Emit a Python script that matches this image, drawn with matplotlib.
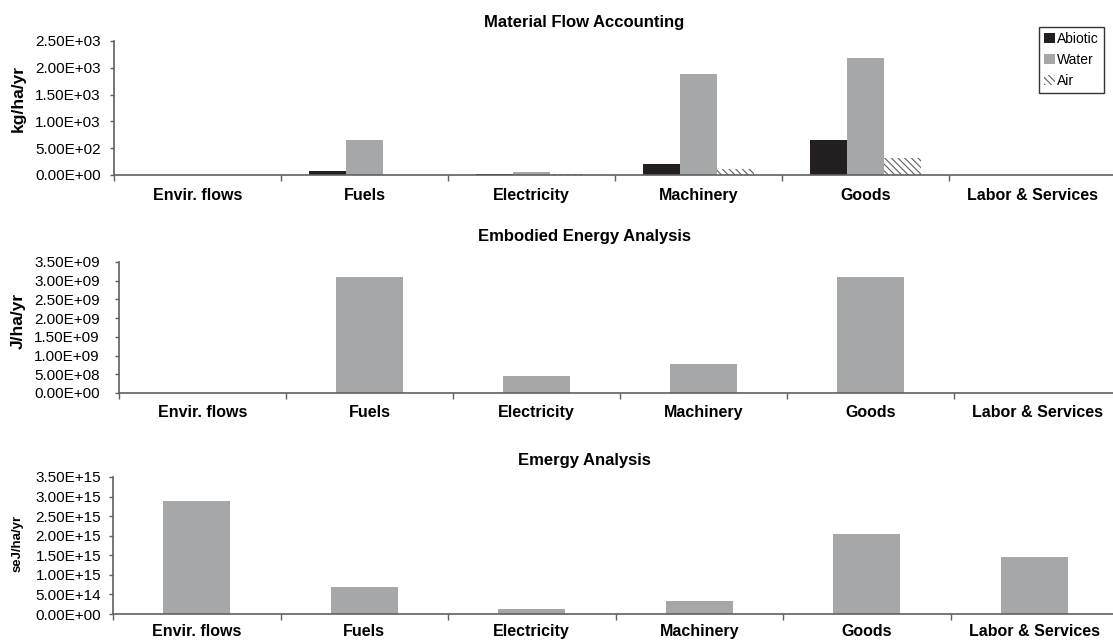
import matplotlib
matplotlib.use("Agg")
import matplotlib.pyplot as plt
import numpy as np
from matplotlib.ticker import FuncFormatter

plt.rcParams['font.family'] = ['Liberation Sans', 'DejaVu Sans']
plt.rcParams['hatch.linewidth'] = 0.8

categories = ["Envir. flows", "Fuels", "Electricity", "Machinery", "Goods", "Labor & Services"]

# Material Flow Accounting (kg/ha/yr)
mfa_abiotic = [0, 75, 25, 205, 650, 0]
mfa_water = [0, 653, 55, 1880, 2180, 0]
mfa_air = [0, 0, 20, 105, 315, 0]

# Embodied Energy Analysis (J/ha/yr)
eea_values = [0, 3.09e9, 4.6e8, 7.7e8, 3.09e9, 0]

# Emergy Analysis (seJ/ha/yr)
em_values = [2.88e15, 6.8e14, 1.2e14, 3.3e14, 2.04e15, 1.45e15]

titles = ["Material Flow Accounting", "Embodied Energy Analysis", "Emergy Analysis"]
ylabels = ["kg/ha/yr", "J/ha/yr", "seJ/ha/yr"]

C_ABIOTIC = "#231f20"
C_WATER = "#a6a7a9"
C_AXIS = "#606060"

W, H = 1113, 640
fig = plt.figure(figsize=(W / 100, H / 100), dpi=100)


def px_axes(left, top_px, bottom_px, width):
    return fig.add_axes([left / W, 1 - bottom_px / H, width / W, (bottom_px - top_px) / H])


ax1 = px_axes(114, 41, 175, 1002)
ax2 = px_axes(119, 262, 393, 1002)
ax3 = px_axes(113, 477, 614, 1005)
axes = [ax1, ax2, ax3]

x = np.arange(len(categories))

# top: grouped bars
bw = 1 / 4.5
ax1.bar(x - bw, mfa_abiotic, bw, color=C_ABIOTIC, label="Abiotic", linewidth=0)
ax1.bar(x, mfa_water, bw, color=C_WATER, label="Water", linewidth=0)
ax1.bar(x + bw, mfa_air, bw, color="white", edgecolor="#606060", hatch="\\\\\\\\\\",
        label="Air", linewidth=0)
ax1.set_ylim(0, 2500)
ax1.set_yticks(np.arange(0, 2501, 500))

bw2 = 0.4
ax2.bar(x, eea_values, bw2, color=C_WATER, linewidth=0)
ax2.set_ylim(0, 3.5e9)
ax2.set_yticks(np.arange(0, 3.51e9, 5e8))

ax3.bar(x, em_values, bw2, color=C_WATER, linewidth=0)
ax3.set_ylim(0, 3.5e15)
ax3.set_yticks(np.arange(0, 3.51e15, 5e14))

fmt = FuncFormatter(lambda v, p: "{:.2E}".format(v))
ypads = [6.4, 10.7, 5.6]
xpads = [18.3, 17.3, 15.5]
for ax, yp, xp in zip(axes, ypads, xpads):
    ax.set_xlim(-0.5, len(categories) - 0.5)
    ax.yaxis.set_major_formatter(fmt)
    for s in ["top", "right"]:
        ax.spines[s].set_visible(False)
    for s in ["left", "bottom"]:
        ax.spines[s].set_color(C_AXIS)
        ax.spines[s].set_linewidth(1.2)
    ax.set_xticks(x)
    ax.set_xticklabels(categories, fontweight="bold", fontsize=11.5, va="baseline")
    ax.set_xticks(np.arange(-0.5, len(categories), 1.0), minor=True)
    ax.tick_params(axis="x", which="major", length=0, pad=xp)
    ax.tick_params(axis="x", which="minor", length=4, direction="out", color=C_AXIS, width=1)
    ax.tick_params(axis="y", length=3, direction="out", color=C_AXIS, width=1,
                   labelsize=11, pad=yp)

# titles
fig.text(584 / W, 1 - 23 / H, titles[0], ha="center", va="center", fontweight="bold", fontsize=12)
fig.text(584 / W, 1 - 236 / H, titles[1], ha="center", va="center", fontweight="bold", fontsize=12)
fig.text(584 / W, 1 - 460 / H, titles[2], ha="center", va="center", fontweight="bold", fontsize=12)

# y labels
fig.text(18 / W, 1 - 98 / H, ylabels[0], rotation=90, ha="center", va="center",
         fontweight="bold", fontsize=12.5)
fig.text(18 / W, 1 - 321 / H, ylabels[1], rotation=90, ha="center", va="center",
         fontweight="bold", fontsize=12.5)
fig.text(18 / W, 1 - 543 / H, ylabels[2], rotation=90, ha="center", va="center",
         fontweight="bold", fontsize=9.5)

leg = fig.legend(loc="upper right", bbox_to_anchor=(1104 / W, 1 - 27 / H),
                 fontsize=10, frameon=True, fancybox=False, handlelength=0.75,
                 handleheight=0.75, handletextpad=0.2, borderpad=0.35, labelspacing=0.5,
                 borderaxespad=0)
leg.get_frame().set_edgecolor("black")
leg.get_frame().set_linewidth(1)

fig.savefig("out.png", dpi=100)
